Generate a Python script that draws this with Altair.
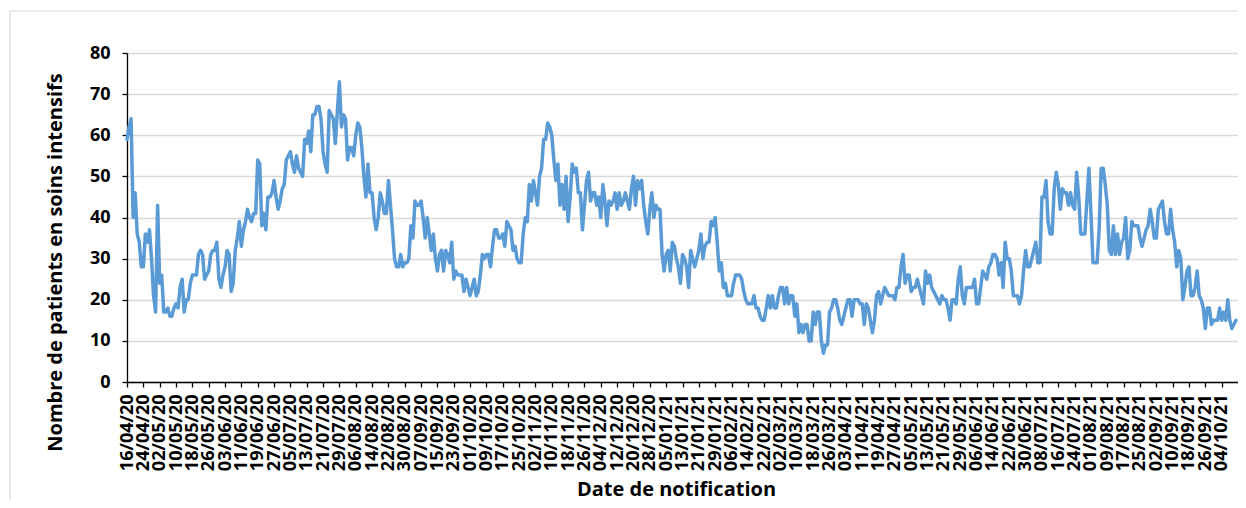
import altair as alt
import pandas as pd

# Daily ICU patients, starting 16/04/2020
start_date = "2020-04-16"
end_domain = "2021-10-12"
patients = [
    59, 62, 64, 40, 46, 36, 34, 28, 28, 36,
    34, 37, 30, 21, 17, 43, 24, 26, 17, 17,
    18, 16, 16, 18, 19, 18, 23, 25, 17, 20,
    20, 24, 26, 26, 26, 31, 32, 31, 25, 26,
    27, 31, 32, 32, 34, 25, 23, 26, 28, 32,
    31, 22, 24, 32, 35, 39, 33, 37, 39, 42,
    40, 39, 41, 41, 54, 53, 38, 41, 37, 45,
    45, 46, 49, 45, 42, 44, 47, 48, 54, 55,
    56, 53, 51, 55, 52, 51, 50, 59, 58, 61,
    56, 65, 65, 67, 67, 64, 56, 53, 51, 66,
    65, 64, 58, 66, 73, 62, 65, 64, 54, 57,
    57, 55, 60, 63, 62, 57, 50, 45, 53, 46,
    46, 40, 37, 40, 46, 44, 41, 41, 49, 43,
    37, 30, 28, 28, 31, 28, 29, 29, 30, 38,
    35, 44, 43, 43, 44, 40, 35, 40, 36, 32,
    36, 30, 27, 31, 32, 27, 32, 31, 29, 34,
    25, 27, 26, 26, 26, 22, 25, 23, 21, 23,
    25, 21, 22, 26, 31, 30, 31, 31, 28, 33,
    37, 37, 35, 35, 36, 33, 39, 38, 37, 32,
    33, 30, 29, 29, 36, 40, 39, 48, 44, 49,
    46, 43, 50, 52, 59, 59, 63, 62, 60, 54,
    49, 53, 43, 48, 42, 50, 39, 45, 53, 51,
    52, 46, 46, 37, 43, 49, 51, 44, 46, 46,
    43, 45, 40, 48, 44, 38, 44, 43, 44, 46,
    42, 46, 43, 44, 46, 44, 42, 47, 50, 43,
    49, 47, 49, 43, 39, 36, 42, 46, 40, 43,
    42, 42, 31, 27, 31, 32, 27, 34, 33, 30,
    28, 24, 31, 30, 28, 23, 32, 30, 28, 30,
    32, 36, 30, 33, 34, 34, 39, 38, 40, 34,
    27, 29, 23, 24, 21, 21, 21, 24, 26, 26,
    26, 25, 22, 20, 19, 19, 19, 21, 18, 18,
    16, 15, 15, 18, 21, 18, 21, 18, 18, 21,
    23, 23, 19, 23, 19, 21, 21, 16, 19, 12,
    14, 12, 14, 14, 10, 10, 17, 14, 17, 17,
    10, 7, 9, 9, 17, 18, 20, 20, 18, 15,
    14, 16, 18, 20, 20, 16, 20, 20, 20, 19,
    19, 14, 19, 18, 15, 12, 15, 21, 22, 19,
    21, 23, 22, 21, 21, 21, 20, 23, 23, 28,
    31, 24, 26, 26, 22, 23, 23, 25, 23, 21,
    19, 27, 24, 26, 23, 22, 21, 20, 19, 21,
    20, 20, 18, 15, 20, 20, 19, 25, 28, 21,
    19, 23, 23, 23, 23, 25, 19, 19, 23, 27,
    26, 25, 28, 29, 31, 31, 30, 26, 29, 23,
    34, 30, 30, 27, 21, 21, 21, 19, 21, 27,
    32, 28, 28, 30, 32, 34, 29, 29, 45, 45,
    49, 39, 36, 36, 47, 51, 48, 42, 47, 46,
    46, 43, 46, 43, 42, 51, 45, 36, 36, 36,
    44, 52, 41, 29, 29, 29, 37, 52, 52, 48,
    43, 32, 31, 38, 31, 36, 31, 34, 35, 40,
    30, 32, 39, 38, 38, 38, 35, 33, 35, 37,
    38, 42, 39, 35, 35, 42, 43, 44, 39, 36,
    36, 42, 37, 34, 28, 32, 30, 20, 23, 27,
    28, 21, 21, 23, 27, 21, 20, 18, 13, 18,
    18, 14, 15, 15, 15, 18, 15, 17, 15, 20,
    15, 13, 14, 15,
]
tick_first = "2020-04-16"
tick_last = "2021-10-04"
tick_step = "8D"
y_ticks = [0, 10, 20, 30, 40, 50, 60, 70, 80]

dates = pd.date_range(start_date, periods=len(patients), freq="D")
df = pd.DataFrame({"date": dates.strftime("%Y-%m-%d"), "patients": patients})


def dt(d):
    d = pd.Timestamp(d)
    return alt.DateTime(year=d.year, month=d.month, date=d.day, utc=True)


tick_values = [dt(d) for d in pd.date_range(tick_first, tick_last, freq=tick_step)]

FONT = "Open Sans"
BLUE = "#5B9BD5"

W, H = 1111, 329
PAD = {"left": 119, "top": 45, "right": 0, "bottom": 118}

line = alt.Chart(df).mark_line(
    color=BLUE, strokeWidth=3.5, strokeJoin="round", strokeCap="round"
).encode(
    x=alt.X(
        "date:T",
        scale=alt.Scale(type="utc", domain=[dt(start_date), dt(end_domain)]),
        axis=alt.Axis(
            values=tick_values,
            labelExpr="utcFormat(datum.value, '%d/%m/%y')",
            labelAngle=270,
            labelFont=FONT,
            labelFontSize=18,
            labelFontWeight="bold",
            labelColor="#000000",
            labelPadding=7,
            labelOverlap=False,
            labelBound=False,
            labelFlush=False,
            tickColor="#000000",
            tickSize=5,
            tickWidth=1.3,
            domainColor="#000000",
            domainWidth=1.3,
            grid=False,
            title="Date de notification",
            titleFont=FONT,
            titleFontSize=20,
            titleFontWeight="bold",
            titleColor="#000000",
            titleX=549,
            titleY=113,
            titleBaseline="alphabetic",
            titleAlign="center",
        ),
    ),
    y=alt.Y(
        "patients:Q",
        scale=alt.Scale(domain=[0, 80], nice=False),
        axis=alt.Axis(
            values=y_ticks,
            labelFont=FONT,
            labelFontSize=18,
            labelFontWeight="bold",
            labelColor="#000000",
            labelPadding=12,
            tickColor="#000000",
            tickSize=5,
            tickWidth=1.3,
            domainColor="#000000",
            domainWidth=1.3,
            grid=True,
            gridColor="#d9d9d9",
            gridWidth=1.4,
            title="Nombre de patients en soins intensifs",
            titleFont=FONT,
            titleFontSize=20,
            titleFontWeight="bold",
            titleColor="#000000",
            titleAngle=270,
            titleX=-66,
            titleY=209,
            titleBaseline="alphabetic",
            titleAlign="center",
        ),
    ),
)

frame = alt.Chart(alt.Data(values=[{}])).mark_rect(
    fill=None, stroke="#d9d9d9", strokeWidth=1.2
).encode(
    x=alt.value(-117), x2=alt.value(W + 60),
    y=alt.value(-42), y2=alt.value(H + 200),
)

chart = alt.layer(frame, line).properties(
    width=W,
    height=H,
    autosize=alt.AutoSizeParams(type="none"),
    padding=PAD,
    background="white",
).configure_view(stroke=None)

chart.save("out.html", embed_options={"renderer": "svg", "actions": False})
